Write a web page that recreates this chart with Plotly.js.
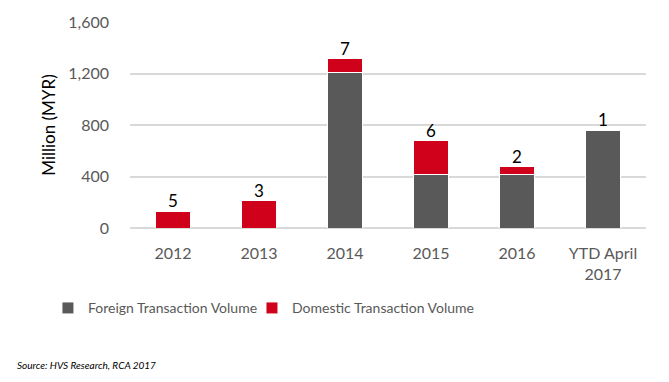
<!DOCTYPE html>
<html>
<head>
<meta charset="utf-8">
<script src="https://cdn.plot.ly/plotly-3.0.1.min.js"></script>
<style>html,body{margin:0;padding:0;background:#fff;}#chart{width:669px;height:382px;}</style>
</head>
<body>
<div id="chart"></div>
<script>
const categories = ["2012", "2013", "2014", "2015", "2016", "YTD April<br>2017"];
const foreignVolume = [0, 0, 1205, 415, 415, 760];
const domesticVolume = [132, 210, 108, 262, 60, 0];
const transactionCounts = ["5", "3", "7", "6", "2", "1"];
const yTicks = [0, 400, 800, 1200, 1600];
const yTickLabels = ["0", "400", "800", "1,200", "1,600"];

const font = "Lato, 'Open Sans', sans-serif";
const totals = foreignVolume.map((v, i) => v + domesticVolume[i]);

const traces = [
  {type: "bar", name: "Foreign Transaction Volume", x: categories, y: foreignVolume,
   marker: {color: "#595959", line: {color: "#ffffff", width: 1}}, legend: "legend"},
  {type: "bar", name: "Domestic Transaction Volume", x: categories, y: domesticVolume,
   marker: {color: "#d0021b", line: {color: "#ffffff", width: 1}}, legend: "legend2"},
  {type: "scatter", mode: "text", x: categories, y: totals, text: transactionCounts,
   textposition: "top center", textfont: {family: font, size: 17, color: "#000000"},
   showlegend: false, cliponaxis: false}
];

const legendFont = {family: font, size: 14, color: "#595959"};

const layout = {
  width: 669, height: 382,
  margin: {l: 130, r: 23, t: 22, b: 154},
  barmode: "stack", bargap: 0.6,
  paper_bgcolor: "#ffffff", plot_bgcolor: "#ffffff",
  font: {family: font, color: "#595959", size: 16},
  xaxis: {type: "category", range: [-0.5, 5.5], autorange: false,
          tickfont: {family: font, size: 16, color: "#595959"},
          showgrid: false, zeroline: false, showline: false, ticks: "",
          ticklabelstandoff: 14},
  yaxis: {range: [0, 1600], autorange: false, tickvals: yTicks, ticktext: yTickLabels,
          tickfont: {family: font, size: 16, color: "#595959"},
          showgrid: true, gridcolor: "#d9d9d9", gridwidth: 1.5,
          zeroline: true, zerolinecolor: "#d9d9d9", zerolinewidth: 1.5,
          showline: false, ticks: "", ticklabelstandoff: 20,
          title: {text: "Million (MYR)", font: {family: font, size: 17, color: "#000000"}, standoff: 8}},
  showlegend: true,
  legend: {orientation: "h", x: -0.159, xanchor: "left", y: -0.39, yanchor: "middle",
           bgcolor: "rgba(0,0,0,0)", font: legendFont},
  legend2: {orientation: "h", x: 0.2364, xanchor: "left", y: -0.39, yanchor: "middle",
           bgcolor: "rgba(0,0,0,0)", font: legendFont},
  annotations: [{
    text: "<i>Source: HVS Research, RCA 2017</i>", xref: "paper", yref: "paper",
    x: -0.223, y: -0.665, xanchor: "left", yanchor: "middle", showarrow: false,
    font: {family: font, size: 10, color: "#000000"}
  }]
};

Plotly.newPlot("chart", traces, layout, {displayModeBar: false});
</script>
</body>
</html>
